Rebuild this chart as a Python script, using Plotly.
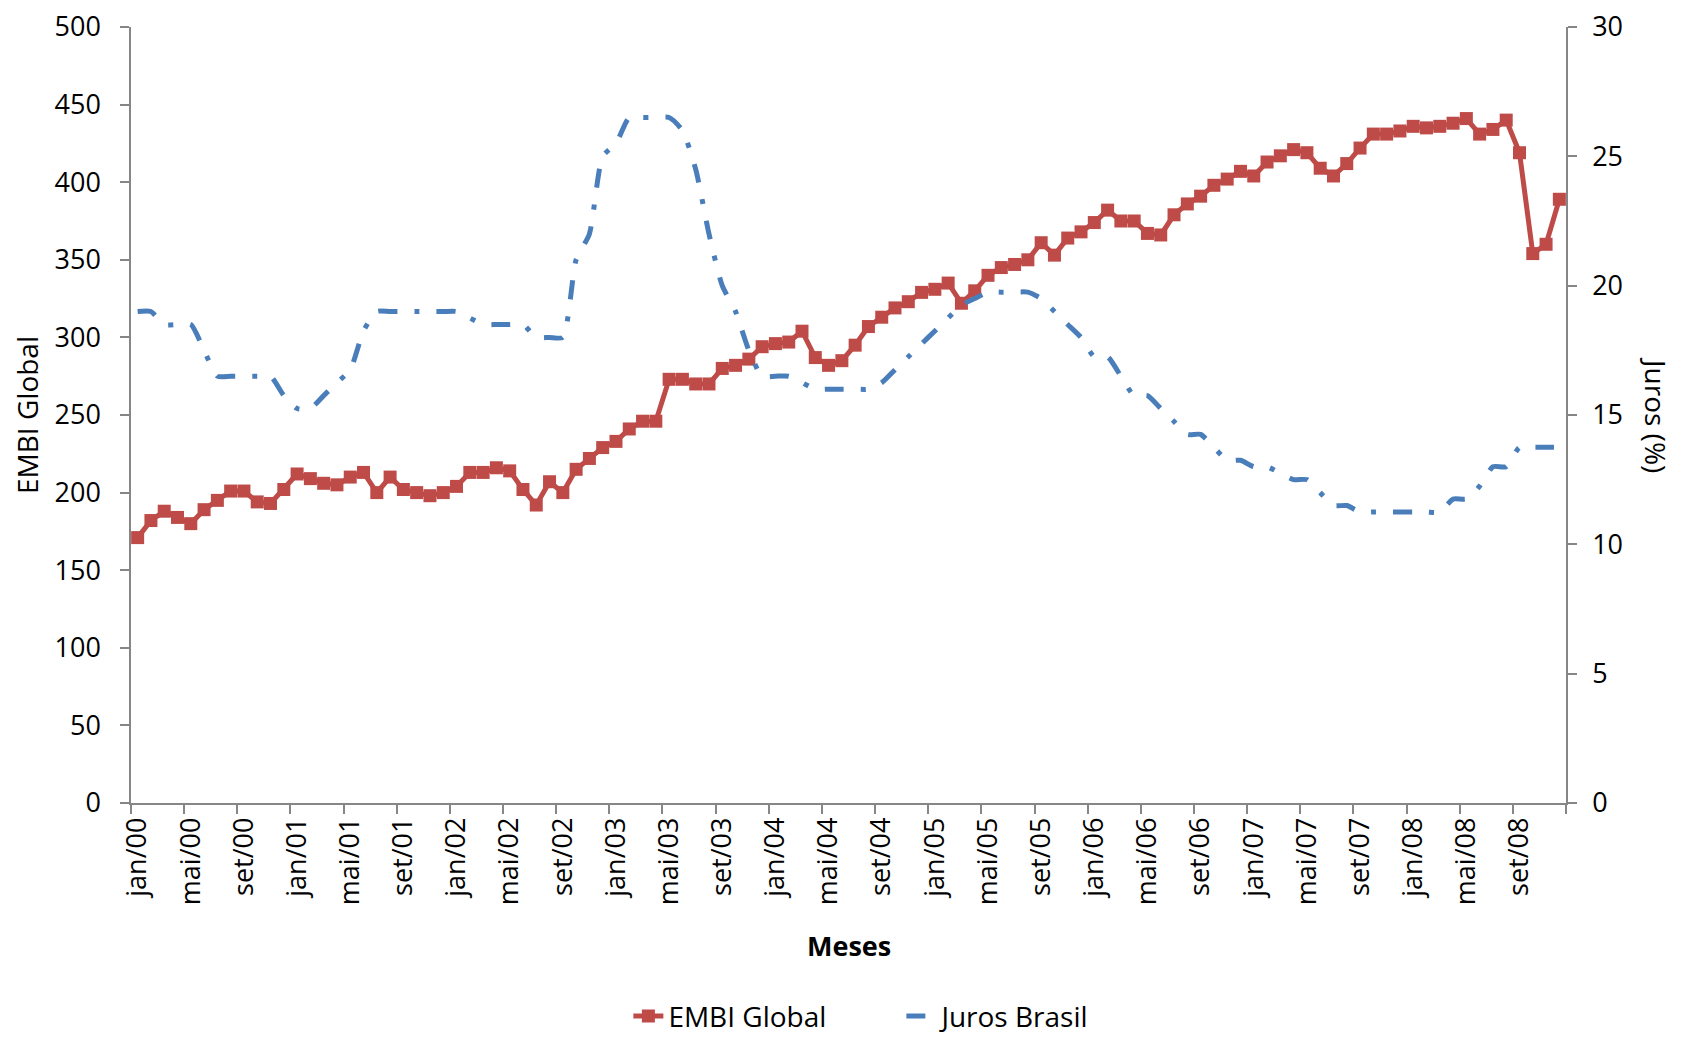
import plotly.graph_objects as go

month_names = ["jan", "fev", "mar", "abr", "mai", "jun", "jul", "ago", "set", "out", "nov", "dez"]
years = ["00", "01", "02", "03", "04", "05", "06", "07", "08"]
months = [f"{m}/{y}" for y in years for m in month_names]

embi_global = [
    171, 182, 188, 184, 180, 189, 195, 201, 201, 194, 193, 202,
    212, 209, 206, 205, 210, 213, 200, 210, 202, 200, 198, 200,
    204, 213, 213, 216, 214, 202, 192, 207, 200, 215, 222, 229,
    233, 241, 246, 246, 273, 273, 270, 270, 280, 282, 286, 294,
    296, 297, 304, 287, 282, 285, 295, 307, 313, 319, 323, 329,
    331, 335, 322, 330, 340, 345, 347, 350, 361, 353, 364, 368,
    374, 382, 375, 375, 367, 366, 379, 386, 391, 398, 402, 407,
    404, 413, 417, 421, 419, 409, 404, 412, 422, 431, 431, 433,
    436, 435, 436, 438, 441, 431, 434, 440, 419, 354, 360, 389,
]

juros_brasil = [
    19.00, 19.00, 18.50, 18.50, 18.50, 17.50, 16.50, 16.50, 16.50, 16.50, 16.50, 15.75,
    15.25, 15.25, 15.75, 16.25, 16.75, 18.25, 19.00, 19.00, 19.00, 19.00, 19.00, 19.00,
    19.00, 18.75, 18.50, 18.50, 18.50, 18.50, 18.00, 18.00, 18.00, 21.00, 22.00, 25.00,
    25.50, 26.50, 26.50, 26.50, 26.50, 26.00, 24.50, 22.00, 20.00, 19.00, 17.50, 16.50,
    16.50, 16.50, 16.25, 16.00, 16.00, 16.00, 16.00, 16.00, 16.25, 16.75, 17.25, 17.75,
    18.25, 18.75, 19.25, 19.50, 19.75, 19.75, 19.75, 19.75, 19.50, 19.00, 18.50, 18.00,
    17.25, 17.25, 16.50, 15.75, 15.75, 15.25, 14.75, 14.25, 14.25, 13.75, 13.25, 13.25,
    13.00, 13.00, 12.75, 12.50, 12.50, 12.00, 11.50, 11.50, 11.25, 11.25, 11.25, 11.25,
    11.25, 11.25, 11.25, 11.75, 11.75, 12.25, 13.00, 13.00, 13.75, 13.75, 13.75, 13.75,
]

RED = "#BE4B48"
BLUE = "#4A7EBB"
AXIS = "#868686"
FONT = "Open Sans"

fig = go.Figure()
fig.add_trace(go.Scatter(
    x=months, y=embi_global, name="EMBI Global", mode="lines+markers",
    line=dict(color=RED, width=5),
    marker=dict(symbol="square", size=13, color=RED),
    yaxis="y",
))
fig.add_trace(go.Scatter(
    x=months, y=juros_brasil, name="Juros Brasil", mode="lines",
    line=dict(color=BLUE, width=5, dash="19px,17px,5px,17px", shape="spline", smoothing=0.6),
    yaxis="y2",
))

fig.update_layout(
    width=1673, height=1031,
    margin=dict(l=123, r=115, t=19, b=236, autoexpand=False),
    paper_bgcolor="white", plot_bgcolor="white",
    font=dict(family=FONT, color="black"),
    showlegend=True,
    legend=dict(
        orientation="h", xref="container", yref="container",
        x=0.534, xanchor="center", y=0.022, yanchor="middle",
        font=dict(family=FONT, size=28, color="black"),
        entrywidth=228, bgcolor="rgba(0,0,0,0)",
    ),
    xaxis=dict(
        type="category", range=[-0.5, len(months) - 0.5], automargin=False,
        tickmode="linear", tick0=0, dtick=4, tickson="boundaries",
        ticks="outside", ticklen=9, tickcolor=AXIS, tickwidth=1.5,
        showline=True, linecolor=AXIS, linewidth=1.5,
        showgrid=False, zeroline=False,
        tickangle=-90, tickfont=dict(family=FONT, size=27, color="black"),
        ticklabelstandoff=2,
    ),
    yaxis=dict(
        range=[0, 500], dtick=50, tick0=0, automargin=False, ticklabeloverflow="allow",
        ticks="outside", ticklen=9, tickcolor=AXIS, tickwidth=1.5,
        showline=True, linecolor=AXIS, linewidth=1.5,
        showgrid=False, zeroline=False,
        tickfont=dict(family=FONT, size=27, color="black"),
        ticklabelstandoff=14,
    ),
    yaxis2=dict(
        range=[0, 30], dtick=5, tick0=0, overlaying="y", side="right",
        automargin=False, ticklabeloverflow="allow",
        ticks="outside", ticklen=9, tickcolor=AXIS, tickwidth=1.5,
        showline=True, linecolor=AXIS, linewidth=1.5,
        showgrid=False, zeroline=False,
        tickfont=dict(family=FONT, size=27, color="black"),
        ticklabelstandoff=10,
    ),
    annotations=[
        dict(text="EMBI Global", xref="paper", yref="paper", x=-0.0725, y=0.5,
             xanchor="center", yanchor="middle", textangle=-90, showarrow=False,
             font=dict(family=FONT, size=28, color="black")),
        dict(text="Juros (%)", xref="paper", yref="paper", x=1.0627, y=0.5,
             xanchor="center", yanchor="middle", textangle=90, showarrow=False,
             font=dict(family=FONT, size=28, color="black")),
        dict(text="<b>Meses</b>", xref="paper", yref="paper", x=0.5, y=-0.183,
             xanchor="center", yanchor="middle", showarrow=False,
             font=dict(family=FONT, size=27, color="black")),
    ],
)

fig.write_html("out.html")
